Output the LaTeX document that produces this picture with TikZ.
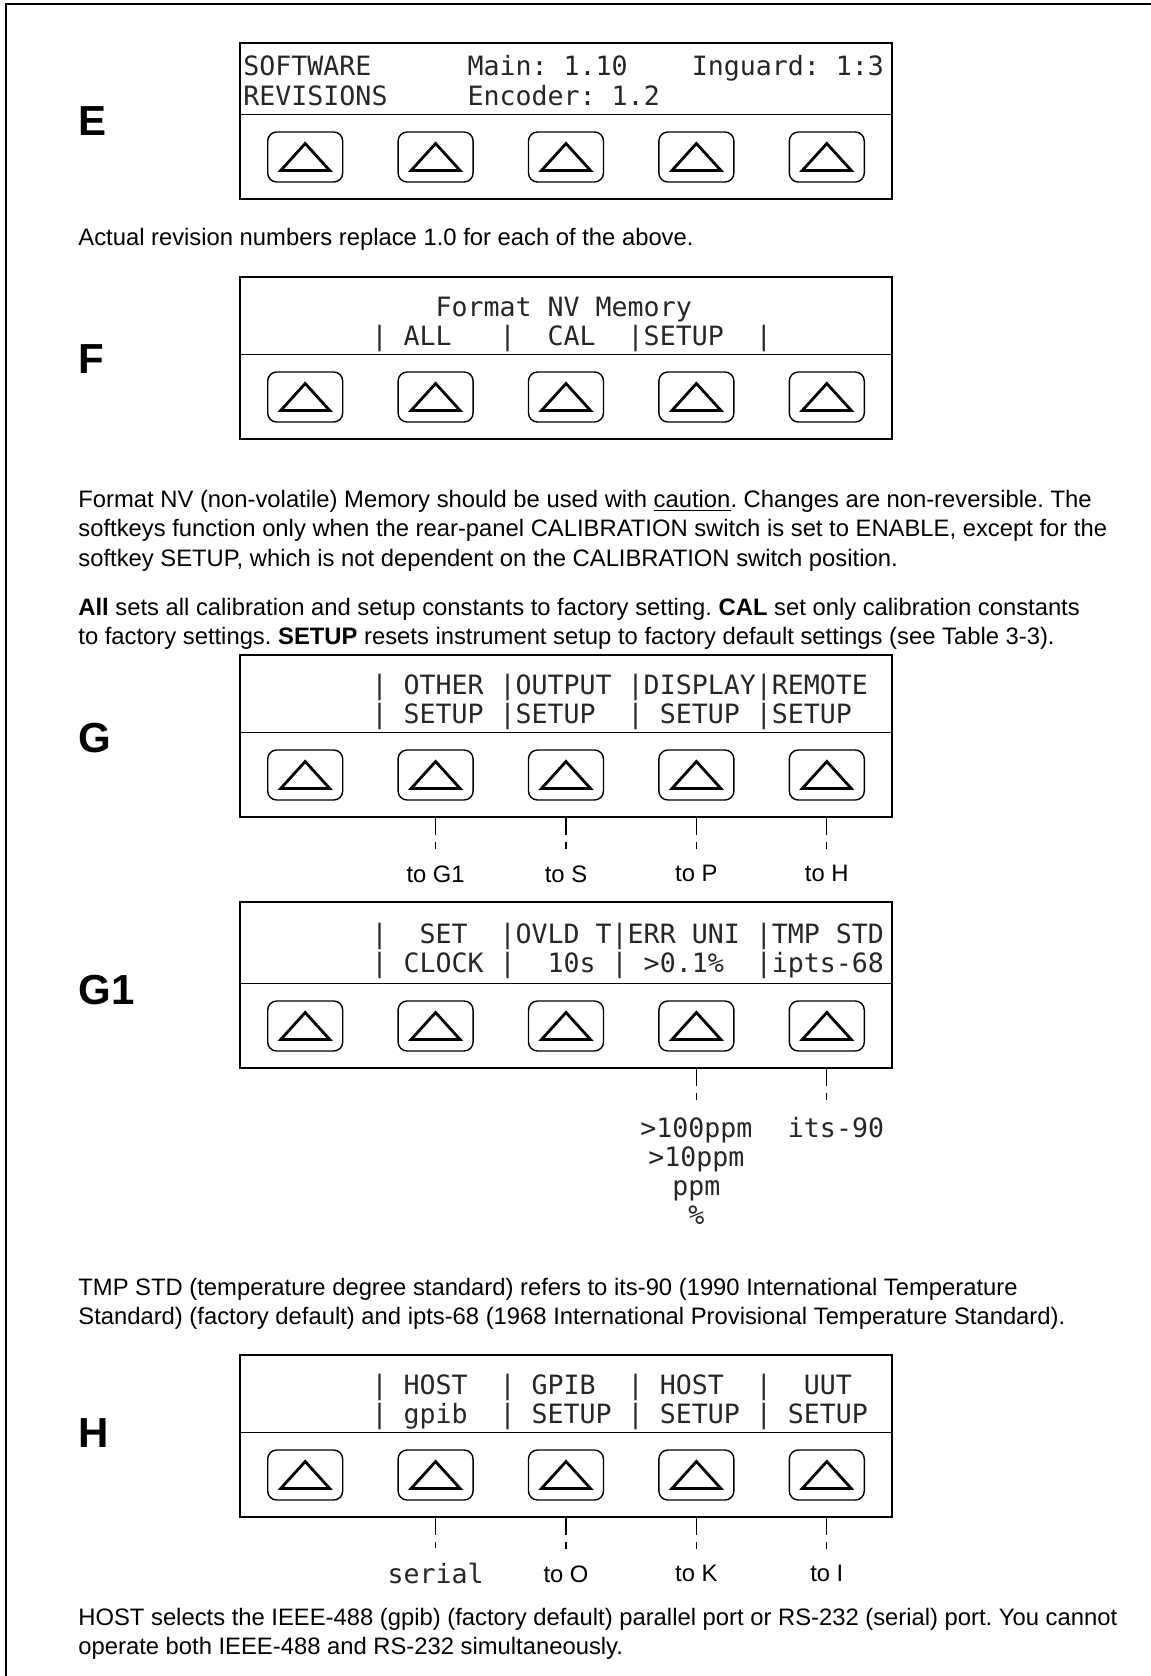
\documentclass[tikz,border=0pt]{standalone}
\usepackage{fontspec}
\setmainfont{Liberation Sans}
\newfontfamily\lcdfont{DejaVu Sans Mono}
\usetikzlibrary{calc}
\frenchspacing

\begin{document}
\begin{tikzpicture}[x=0.5pt,y=-0.5pt,
  panel/.style={draw,line width=1pt,minimum width=326pt,inner sep=0pt},
  softkey/.style={draw,line width=0.7pt,rounded corners=4.5pt,minimum width=37.5pt,
    minimum height=25pt,inner sep=0pt},
  tri/.style={line width=1.4pt,line join=miter},
  lcd/.style={anchor=base west,inner sep=0pt,text=black!85,font=\lcdfont\fontsize{13.3}{14.5}\selectfont},
  lcdlist/.style={anchor=north,inner sep=0pt,align=center,text=black!85,font=\lcdfont\fontsize{13.3}{14.6}\selectfont},
  tag/.style={anchor=base west,inner sep=0pt,font=\fontsize{21}{24}\selectfont\bfseries},
  note/.style={anchor=north west,inner sep=0pt,align=left,font=\fontsize{11.9}{14.6}\selectfont},
  dest/.style={anchor=north,inner sep=0pt,font=\fontsize{11.9}{14.6}\selectfont},
  lead/.style={line width=0.6pt,dash pattern=on 8.5pt off 3.5pt on 3.5pt off 30pt,shorten >=7.5pt}
]
\useasboundingbox (0,0) rectangle (1151,1676);
\draw[line width=1pt] (6,1676) -- (6,4) -- (1151,4);

% panels with five softkeys each
\foreach \p/\t/\b in {rev/43/199,fmt/277/439,setup/655/817,other/902/1068,remote/1355/1517}{
  \node[panel,minimum height={(\b-\t)*0.5pt}] (\p) at (566,{(\t+\b)/2}) {};
  \draw ($(\p.south west)+(0,-86)$) -- ($(\p.south east)+(0,-86)$);
  \foreach \k in {1,...,5}{
    \node[softkey] (\p\k) at ({305.2+130.4*(\k-1)},\b-42) {};
    \draw[tri] (\p\k.center) ++(-24.5,13.5) -- ++(49,0) -- ++(-24.5,-27) -- cycle;
  }
}

% E
\node[tag] (tagE) at (78,135) {E};
\node[lcd] (rev-a) at (243,75)  {SOFTWARE~~~~~~Main:~1.10~~~~Inguard:~1:3};
\node[lcd] (rev-b) at (243,105) {REVISIONS~~~~~Encoder:~1.2};
\node[note] (revnote) at (78,228) {Actual revision numbers replace 1.0 for each of the above.};

% F
\node[tag] (tagF) at (78,373) {F};
\node[lcd] (fmt-a) at (243,316) {~~~~~~~~~~~~Format~NV~Memory};
\node[lcd] (fmt-b) at (243,345) {~~~~~~~~|~ALL~~~|~~CAL~~|SETUP~~|};
\node[note] (fmtnote) at (78,490) {Format NV (non-volatile) Memory should be used with \underline{caution}. Changes are non-reversible. The\\
softkeys function only when the rear-panel CALIBRATION switch is set to ENABLE, except for the\\
softkey SETUP, which is not dependent on the CALIBRATION switch position.};
\node[note] (fmtkeys) at (78,598) {\textbf{All} sets all calibration and setup constants to factory setting. \textbf{CAL} set only calibration constants\\
to factory settings. \textbf{SETUP} resets instrument setup to factory default settings (see Table 3-3).};

% G
\node[tag] (tagG) at (78,752) {G};
\node[lcd] (setup-a) at (243,694) {~~~~~~~~|~OTHER~|OUTPUT~|DISPLAY|REMOTE};
\node[lcd] (setup-b) at (243,723) {~~~~~~~~|~SETUP~|SETUP~~|~SETUP~|SETUP};
\node[dest] (toG1) at (435.6,865) {to G1};
\node[dest] (toS)  at (566,865)   {to S};
\node[dest] (toP)  at (696.4,865) {to P};
\node[dest] (toH)  at (826.8,865) {to H};
\draw[lead] (toG1.north |- setup.south) -- (toG1.north);
\draw[lead] (toS.north |- setup.south) -- (toS.north);
\draw[lead] (toP.north |- setup.south) -- (toP.north);
\draw[lead] (toH.north |- setup.south) -- (toH.north);

% G1
\node[tag] (tagGone) at (78,1004) {G1};
\node[lcd] (other-a) at (243,943) {~~~~~~~~|~~SET~~|OVLD~T|ERR~UNI~|TMP~STD};
\node[lcd] (other-b) at (243,972) {~~~~~~~~|~CLOCK~|~~10s~|~>0.1\%~~|ipts-68};
\node[lcdlist] (errunits) at (696.4,1117) {>100ppm\\>10ppm\\ppm\\\%};
\node[lcdlist] (its) at (836,1117) {its-90};
\draw[lead] (errunits.north |- other.south) -- (errunits.north);
\draw[lead] (other5 |- other.south) -- (other5 |- its.north);
\node[note] (tmpnote) at (78,1278) {TMP STD (temperature degree standard) refers to its-90 (1990 International Temperature\\
Standard) (factory default) and ipts-68 (1968 International Provisional Temperature Standard).};

% H
\node[tag] (tagH) at (78,1447) {H};
\node[lcd] (remote-a) at (243,1394) {~~~~~~~~|~HOST~~|~GPIB~~|~HOST~~|~~UUT};
\node[lcd] (remote-b) at (243,1423) {~~~~~~~~|~gpib~~|~SETUP~|~SETUP~|~SETUP};
\node[lcdlist] (serial) at (435.6,1563) {serial};
\node[dest] (toO) at (566,1565)   {to O};
\node[dest] (toK) at (696.4,1565) {to K};
\node[dest] (toI) at (826.8,1565) {to I};
\draw[lead] (serial.north |- remote.south) -- (serial.north);
\draw[lead] (toO.north |- remote.south) -- (toO.north);
\draw[lead] (toK.north |- remote.south) -- (toK.north);
\draw[lead] (toI.north |- remote.south) -- (toI.north);
\node[note] (hostnote) at (78,1608) {HOST selects the IEEE-488 (gpib) (factory default) parallel port or RS-232 (serial) port. You cannot\\
operate both IEEE-488 and RS-232 simultaneously.};
\end{tikzpicture}
\end{document}
